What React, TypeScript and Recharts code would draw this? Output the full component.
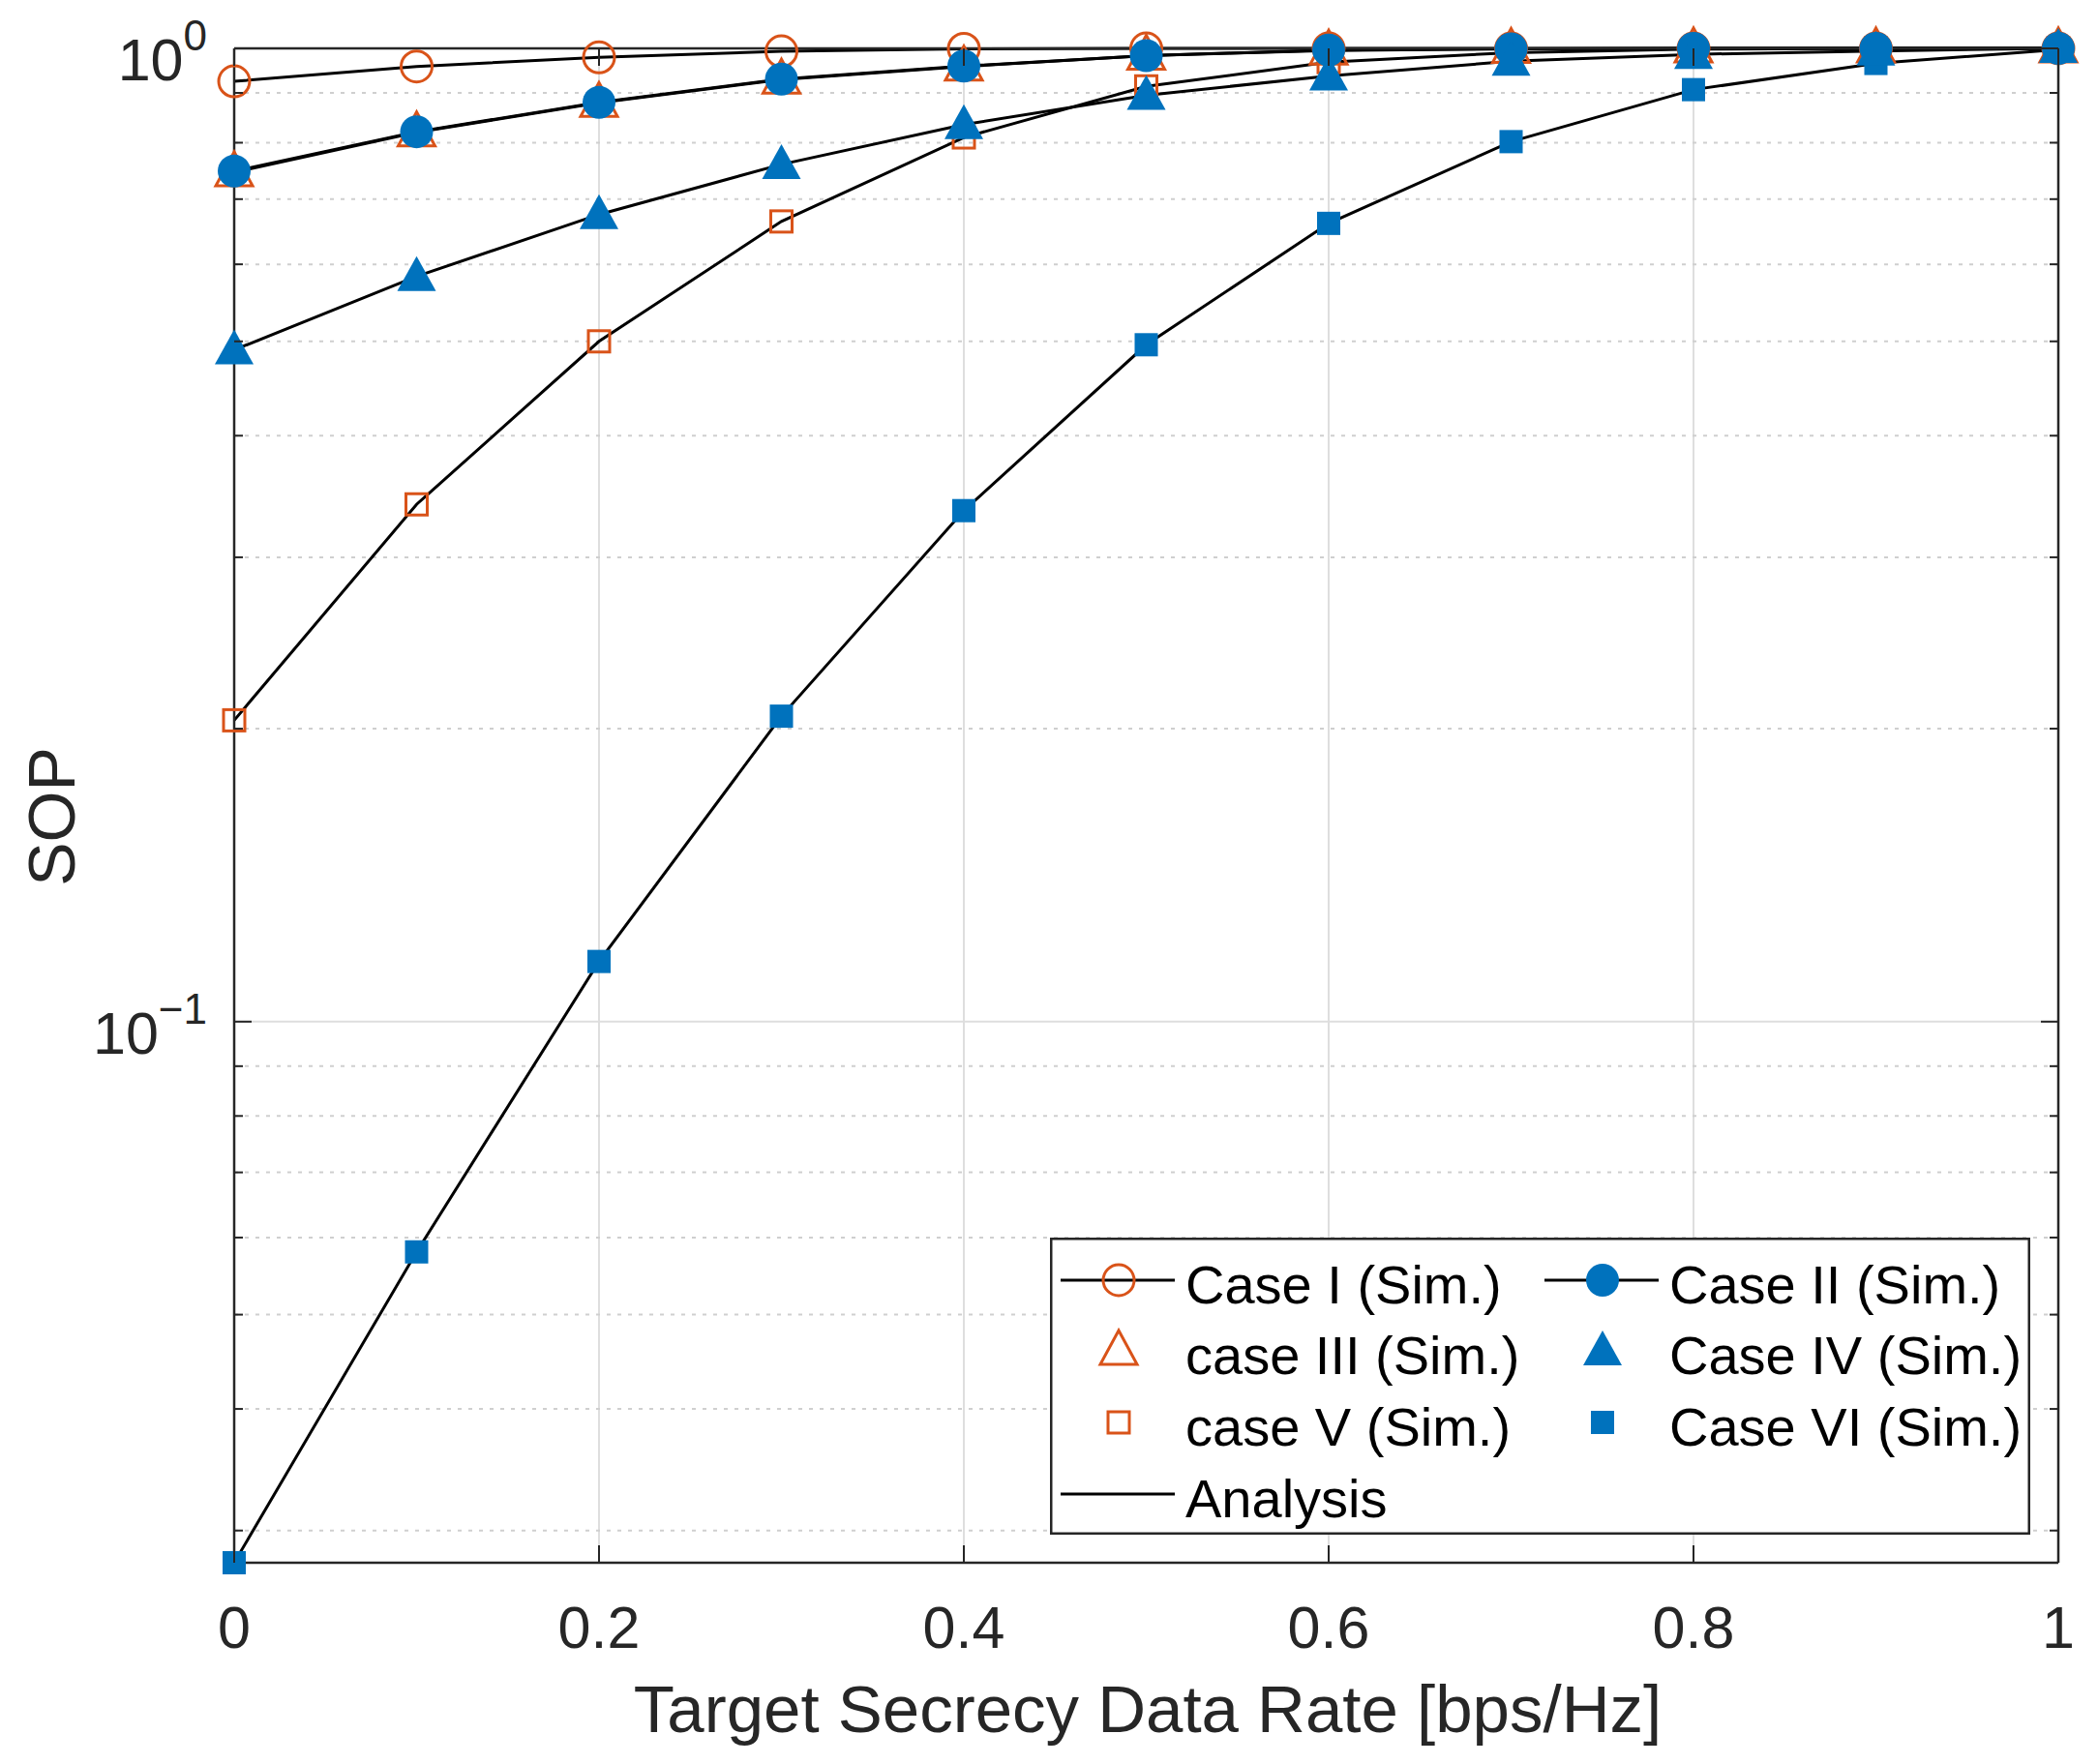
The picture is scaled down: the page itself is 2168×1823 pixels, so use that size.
import React from "react";
import { LineChart, Line, XAxis, YAxis, CartesianGrid, ReferenceLine, Legend } from "recharts";

// target secrecy data rate [bps/Hz]
const rates = [0, 0.1, 0.2, 0.3, 0.4, 0.5, 0.6, 0.7, 0.8, 0.9, 1];

// SOP per case (sim markers and analysis curves share the same values)
const caseI = [0.925, 0.958, 0.979, 0.993, 0.999, 1, 1, 1, 1, 1, 1];
const caseII = [0.748, 0.821, 0.88, 0.93, 0.959, 0.983, 0.996, 0.999, 1, 1, 1];
const caseIII = [0.746, 0.82, 0.879, 0.929, 0.958, 0.983, 0.995, 0.999, 1, 1, 1];
const caseIV = [0.49, 0.583, 0.675, 0.76, 0.835, 0.895, 0.937, 0.97, 0.986, 0.994, 1];
const caseV = [0.204, 0.34, 0.5, 0.664, 0.81, 0.914, 0.968, 0.99, 0.998, 1, 1];
const caseVI = [0.0278, 0.058, 0.1153, 0.206, 0.335, 0.496, 0.661, 0.802, 0.907, 0.965, 0.997];

const xTicks = [0, 0.2, 0.4, 0.6, 0.8, 1];
const yTicks = [0.03, 0.04, 0.05, 0.06, 0.07, 0.08, 0.09, 0.1, 0.2, 0.3, 0.4, 0.5, 0.6, 0.7, 0.8, 0.9, 1];
const yMinorGrid = [0.03, 0.04, 0.05, 0.06, 0.07, 0.08, 0.09, 0.2, 0.3, 0.4, 0.5, 0.6, 0.7, 0.8, 0.9];
const yDomain = [0.0278, 1];

const ORANGE = "#D95319";
const BLUE = "#0072BD";
const AXIS = "#262626";
const GRID = "#dedede";
const FONT = '"Liberation Sans", Arial, Helvetica, sans-serif';

const data = rates.map((r, i) => ({
  rate: r,
  c1: caseI[i],
  c2: caseII[i],
  c3: caseIII[i],
  c4: caseIV[i],
  c5: caseV[i],
  c6: caseVI[i],
}));

type MarkerKind = "circleOpen" | "circle" | "triangleOpen" | "triangle" | "squareOpen" | "square";

const series: Array<{ key: string; label: string; marker: MarkerKind; line?: boolean }> = [
  { key: "c1", label: "Case I (Sim.)", marker: "circleOpen", line: true },
  { key: "c2", label: "Case II (Sim.)", marker: "circle", line: true },
  { key: "c3", label: "case III (Sim.)", marker: "triangleOpen" },
  { key: "c4", label: "Case IV (Sim.)", marker: "triangle" },
  { key: "c5", label: "case V (Sim.)", marker: "squareOpen" },
  { key: "c6", label: "Case VI (Sim.)", marker: "square" },
];

// markers drawn in this order (filled blue on top of orange)
const drawOrder = ["c1", "c3", "c5", "c6", "c2", "c4"];

function Marker({ kind, cx, cy }: { kind: MarkerKind; cx: number; cy: number }) {
  if (cx == null || cy == null) return null;
  switch (kind) {
    case "circleOpen":
      return <circle cx={cx} cy={cy} r={16} fill="none" stroke={ORANGE} strokeWidth={3} />;
    case "circle":
      return <circle cx={cx} cy={cy} r={17} fill={BLUE} />;
    case "triangleOpen":
      return (
        <polygon
          points={`${cx},${cy - 21} ${cx - 19},${cy + 14} ${cx + 19},${cy + 14}`}
          fill="none"
          stroke={ORANGE}
          strokeWidth={3}
        />
      );
    case "triangle":
      return <polygon points={`${cx},${cy - 21} ${cx - 20},${cy + 15} ${cx + 20},${cy + 15}`} fill={BLUE} />;
    case "squareOpen":
      return <rect x={cx - 11} y={cy - 11} width={22} height={22} fill="none" stroke={ORANGE} strokeWidth={3} />;
    case "square":
      return <rect x={cx - 12} y={cy - 12} width={24} height={24} fill={BLUE} />;
  }
}

const isMajor = (v: number) => Math.abs(v - 0.1) < 1e-9 || Math.abs(v - 1) < 1e-9;

function LeftTick({ x, y, payload }: any) {
  const v = payload.value as number;
  const major = isMajor(v);
  return (
    <g>
      <line x1={x} x2={x + (major ? 18 : 9)} y1={y} y2={y} stroke={AXIS} strokeWidth={2} />
      {major && (
        <text x={x - 28} y={y + 33} textAnchor="end" fill={AXIS} fontFamily={FONT}>
          <tspan fontSize={61}>10</tspan>
          <tspan fontSize={44} dy={-31}>
            {v === 1 ? "0" : "\u22121"}
          </tspan>
        </text>
      )}
    </g>
  );
}

function RightTick({ x, y, payload }: any) {
  const major = isMajor(payload.value as number);
  return <line x1={x} x2={x - (major ? 18 : 9)} y1={y} y2={y} stroke={AXIS} strokeWidth={2} />;
}

function BottomTick({ x, y, payload }: any) {
  return (
    <g>
      <line x1={x} x2={x} y1={y} y2={y - 18} stroke={AXIS} strokeWidth={2} />
      <text x={x} y={y + 88} textAnchor="middle" fontSize={61} fill={AXIS} fontFamily={FONT}>
        {String(payload.value)}
      </text>
    </g>
  );
}

function TopTick({ x, y }: any) {
  return <line x1={x} x2={x} y1={y} y2={y + 18} stroke={AXIS} strokeWidth={2} />;
}

function LegendBox() {
  const rowY = [44, 117, 191, 265];
  const cols = [
    { line: [11, 129], mark: 71, text: 140 },
    { line: [511, 629], mark: 571, text: 640 },
  ];
  const cells = series.map((s, i) => ({ s, col: cols[i % 2], y: rowY[Math.floor(i / 2)] }));
  return (
    <svg width={1013} height={307} style={{ display: "block" }}>
      <rect x={1.25} y={1.25} width={1010.5} height={304.5} fill="#fff" stroke={AXIS} strokeWidth={2.5} />
      {cells.map(({ s, col, y }) => (
        <g key={s.key}>
          {s.line && <line x1={col.line[0]} x2={col.line[1]} y1={y} y2={y} stroke="#000" strokeWidth={3} />}
          <Marker kind={s.marker} cx={col.mark} cy={y} />
          <text x={col.text} y={y + 24} fontSize={56} fill="#000" fontFamily={FONT}>
            {s.label}
          </text>
        </g>
      ))}
      <line x1={cols[0].line[0]} x2={cols[0].line[1]} y1={rowY[3]} y2={rowY[3]} stroke="#000" strokeWidth={3} />
      <text x={cols[0].text} y={rowY[3] + 24} fontSize={56} fill="#000" fontFamily={FONT}>
        Analysis
      </text>
    </svg>
  );
}

export default function App() {
  return (
    <div style={{ position: "absolute", left: 0, top: 0, width: 2168, height: 1823, background: "#fff" }}>
      <LineChart width={2168} height={1823} data={data} margin={{ top: 49, right: 40, bottom: 207, left: 241 }}>
        <CartesianGrid horizontal={false} stroke={GRID} strokeWidth={2} />
        {yMinorGrid.map((v) => (
          <ReferenceLine key={v} y={v} stroke="#cfcfcf" strokeWidth={2} strokeDasharray="4 7" />
        ))}
        <ReferenceLine y={0.1} stroke={GRID} strokeWidth={2} />
        <XAxis
          dataKey="rate"
          type="number"
          domain={[0, 1]}
          ticks={xTicks}
          height={1}
          tickSize={0}
          tickMargin={0}
          tickLine={false}
          axisLine={{ stroke: AXIS, strokeWidth: 2.5 }}
          tick={<BottomTick />}
          interval={0}
        />
        <XAxis
          xAxisId="top"
          orientation="top"
          dataKey="rate"
          type="number"
          domain={[0, 1]}
          ticks={xTicks}
          height={1}
          tickSize={0}
          tickMargin={0}
          tickLine={false}
          axisLine={{ stroke: AXIS, strokeWidth: 2.5 }}
          tick={<TopTick />}
          interval={0}
          allowDataOverflow
        />
        <YAxis
          type="number"
          scale="log"
          domain={yDomain}
          ticks={yTicks}
          width={1}
          tickSize={0}
          tickMargin={0}
          tickLine={false}
          axisLine={{ stroke: AXIS, strokeWidth: 2.5 }}
          tick={<LeftTick />}
          interval={0}
          label={{
            content: () => (
              <text
                x={77}
                y={844}
                transform="rotate(-90 77 844)"
                textAnchor="middle"
                fontSize={68}
                fill={AXIS}
                fontFamily={FONT}
              >
                SOP
              </text>
            ),
          }}
        />
        <YAxis
          yAxisId="right"
          orientation="right"
          type="number"
          scale="log"
          domain={yDomain}
          ticks={yTicks}
          width={1}
          tickSize={0}
          tickMargin={0}
          tickLine={false}
          axisLine={{ stroke: AXIS, strokeWidth: 2.5 }}
          tick={<RightTick />}
          interval={0}
          allowDataOverflow
        />
        {drawOrder.map((k) => {
          const s = series.find((x) => x.key === k)!;
          return (
            <Line
              key={`sim-${k}`}
              dataKey={k}
              stroke="none"
              legendType="none"
              isAnimationActive={false}
              dot={(p: any) => <Marker key={`${k}-${p.index}`} kind={s.marker} cx={p.cx} cy={p.cy} />}
              activeDot={false}
            />
          );
        })}
        {series.map((s) => (
          <Line
            key={`ana-${s.key}`}
            type="linear"
            dataKey={s.key}
            stroke="#000"
            strokeWidth={3}
            dot={false}
            activeDot={false}
            legendType="none"
            isAnimationActive={false}
          />
        ))}
        <Legend
          layout="vertical"
          align="center"
          verticalAlign="middle"
          wrapperStyle={{ left: 1085, top: 1279, width: 1013, height: 307 }}
          content={() => <LegendBox />}
        />
        <text x={1186} y={1790} textAnchor="middle" fontSize={69} fill={AXIS} fontFamily={FONT}>
          Target Secrecy Data Rate [bps/Hz]
        </text>
      </LineChart>
    </div>
  );
}
